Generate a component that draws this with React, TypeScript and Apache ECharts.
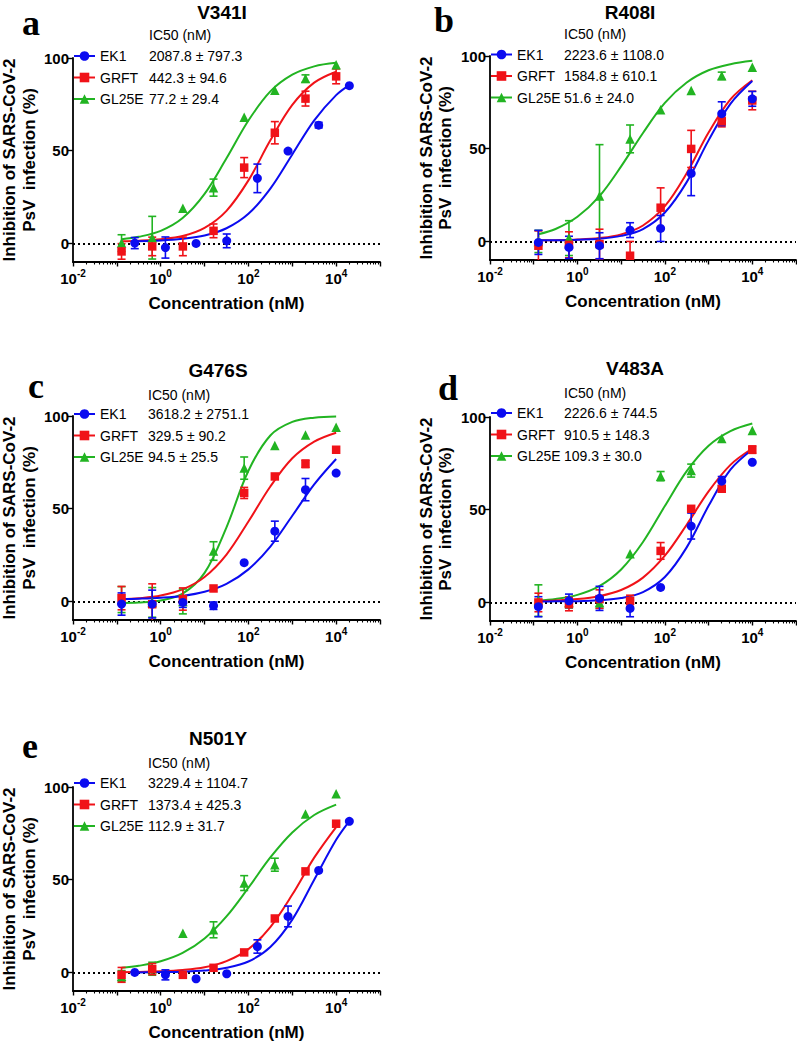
import React, { useEffect, useRef } from 'react';
import * as echarts from 'echarts';

// ---------- text / categories ----------
const PANEL_LETTERS = ['a', 'b', 'c', 'd', 'e'];
const PANEL_TITLES = ['V341I', 'R408I', 'G476S', 'V483A', 'N501Y'];
const COMPOUNDS = ['EK1', 'GRFT', 'GL25E'];
const X_LABEL_EXPONENTS = [-2, 0, 2, 4];
const Y_TICKS = [0, 50, 100];

// ---------- concentrations (nM) ----------
const DOSE_FROM_20000 = [0.256, 1.28, 6.4, 32, 160, 800, 4000, 20000];
const DOSE_FROM_10000 = [0.128, 0.64, 3.2, 16, 80, 400, 2000, 10000];
const FIT_X_FROM_20000 = [0.256, 1, 3.16, 10, 31.6, 100, 316, 1000, 3162, 10000, 20000];
const FIT_X_FROM_10000 = [0.128, 0.316, 1, 3.16, 10, 31.6, 100, 316, 1000, 3162, 10000];

// ---------- IC50 (nM), mean and SD ----------
const IC50_EK1 = [2087.8, 2223.6, 3618.2, 2226.6, 3229.4];
const IC50_EK1_SD = [797.3, 1108.0, 2751.1, 744.5, 1104.7];
const IC50_GRFT = [442.3, 1584.8, 329.5, 910.5, 1373.4];
const IC50_GRFT_SD = [94.6, 610.1, 90.2, 148.3, 425.3];
const IC50_GL25E = [77.2, 51.6, 94.5, 109.3, 112.9];
const IC50_GL25E_SD = [29.4, 24.0, 25.5, 30.0, 31.7];

// ---------- panel a: V341I ----------
const A_EK1 = [0.2, -2.2, 0.0, 1.4, 35.1, 49.8, 63.8, 85.1];
const A_EK1_SEM = [3.0, 5.7, 0, 3.7, 7.7, 0, 1.5, 0];
const A_EK1_FIT = [1.2, 1.6, 2.5, 4.3, 8.2, 16.0, 29.6, 48.0, 66.4, 80.0, 85.4];
const A_GRFT = [-4.3, -1.6, -1.6, 6.8, 40.9, 59.7, 78.1, 90.1];
const A_GRFT_SEM = [4.2, 5.0, 5.0, 3.7, 5.4, 6.0, 4.0, 4.0];
const A_GRFT_FIT = [1.2, 1.5, 2.3, 4.0, 8.4, 17.6, 34.0, 55.6, 74.7, 86.7, 92.6];
const A_GL25E = [0.2, 3.1, 19.0, 30.1, 68.1, 82.6, 88.9, 96.4];
const A_GL25E_SEM = [4.5, 11.5, 0, 4.6, 0, 0, 2.0, 0];
const A_GL25E_FIT = [2.3, 3.6, 6.8, 13.7, 26.7, 45.9, 66.3, 82.0, 91.0, 95.5, 97.4];

// ---------- panel b: R408I ----------
const B_EK1 = [-0.5, -3.2, -2.3, 6.1, 7.0, 36.7, 68.9, 76.9];
const B_EK1_SEM = [6.5, 6.0, 7.0, 4.0, 7.0, 12.0, 6.4, 4.0];
const B_EK1_FIT = [0.6, 0.6, 0.9, 1.4, 3.0, 6.7, 15.6, 32.0, 54.5, 74.2, 86.5];
const B_GRFT = [-2.3, -1.8, -1.4, -7.7, 18.2, 49.9, 64.8, 76.0];
const B_GRFT_SEM = [8.0, 7.0, 8.0, 7.7, 10.7, 10.0, 3.0, 5.0];
const B_GRFT_FIT = [0.6, 0.7, 1.0, 1.8, 3.8, 8.6, 19.0, 36.8, 58.7, 76.6, 86.9];
const B_GL25E = [0.0, 1.8, 24.5, 55.3, 71.0, 81.4, 89.3, 93.9];
const B_GL25E_SEM = [6.0, 9.4, 27.7, 7.5, 0, 0, 2.0, 0];
const B_GL25E_FIT = [3.9, 6.7, 13.3, 24.3, 40.5, 58.5, 74.7, 85.7, 92.3, 95.6, 97.4];

// ---------- panel c: G476S ----------
const C_EK1 = [-1.4, -1.4, -0.5, -2.3, 20.9, 37.9, 60.3, 69.2];
const C_EK1_SEM = [6.0, 7.5, 2.7, 2.0, 0, 5.4, 6.0, 0];
const C_EK1_FIT = [1.3, 1.5, 2.0, 3.0, 5.2, 9.5, 17.3, 29.6, 46.2, 63.1, 76.8];
const C_GRFT = [1.8, -1.5, 1.3, 7.0, 58.5, 67.4, 74.2, 81.8];
const C_GRFT_SEM = [6.3, 11.0, 6.0, 0, 3.0, 0, 2.0, 0];
const C_GRFT_FIT = [1.1, 1.7, 3.2, 6.5, 13.2, 25.3, 43.1, 62.0, 77.2, 86.2, 91.0];
const C_GL25E = [1.0, -0.5, 0.0, 27.2, 71.9, 84.1, 89.8, 93.9];
const C_GL25E_SEM = [7.0, 8.0, 6.7, 5.0, 6.0, 0, 0, 0];
const C_GL25E_FIT = [-0.8, -0.6, 0.5, 4.2, 15.4, 40.0, 70.5, 89.5, 96.8, 99.1, 99.7];

// ---------- panel d: V483A ----------
const D_EK1 = [-2.3, 0.9, 2.2, -3.2, 8.1, 41.2, 65.4, 75.6];
const D_EK1_SEM = [5.4, 3.6, 6.5, 4.5, 0, 7.0, 2.5, 0];
const D_EK1_FIT = [0.5, 0.6, 0.7, 1.2, 2.4, 5.6, 13.7, 29.7, 52.1, 71.6, 82.5];
const D_GRFT = [0.0, -0.9, 1.8, 0.9, 27.8, 50.5, 61.3, 82.4];
const D_GRFT_SEM = [5.0, 3.6, 5.0, 3.0, 4.5, 0, 0, 2.0];
const D_GRFT_FIT = [0.8, 1.1, 1.8, 3.4, 6.7, 13.4, 25.2, 41.9, 59.9, 74.2, 83.0];
const D_GL25E = [1.0, 0.0, 0.0, 26.3, 68.1, 71.1, 88.4, 92.7];
const D_GL25E_SEM = [8.5, 3.0, 3.0, 0, 2.5, 3.5, 0, 0];
const D_GL25E_FIT = [1.0, 1.9, 4.1, 8.8, 17.8, 32.6, 52.0, 70.8, 84.5, 92.4, 96.5];

// ---------- panel e: N501Y ----------
const E_EK1 = [0.0, -1.3, -3.4, -0.7, 14.0, 30.2, 55.0, 81.5];
const E_EK1_SEM = [0, 2.7, 0, 0, 3.6, 5.6, 0, 0];
const E_EK1_FIT = [0.0, 0.2, 0.4, 1.0, 2.5, 5.9, 13.7, 28.5, 50.0, 71.5, 81.6];
const E_GRFT = [-1.3, 1.8, -1.3, 2.5, 10.8, 29.1, 54.5, 80.2];
const E_GRFT_SEM = [4.0, 3.0, 0, 0, 0, 0, 0, 0];
const E_GRFT_FIT = [0.1, 0.3, 0.6, 1.3, 2.8, 6.1, 12.6, 24.5, 42.0, 61.9, 78.4];
const E_GL25E = [-2.0, 2.0, 21.2, 23.0, 48.2, 58.1, 85.4, 96.4];
const E_GL25E_SEM = [3.0, 3.5, 0, 4.3, 4.0, 3.5, 0, 0];
const E_GL25E_FIT = [2.5, 3.6, 6.0, 10.5, 18.3, 30.2, 45.7, 62.0, 75.5, 84.9, 90.5];

// ---------- table built from the arrays above ----------
type Set = { dose: number[]; y: number[]; sem: number[]; fitX: number[]; fit: number[] };
const PANEL_DATA: Record<string, Set>[] = [
  {
    EK1: { dose: DOSE_FROM_20000, y: A_EK1, sem: A_EK1_SEM, fitX: FIT_X_FROM_20000, fit: A_EK1_FIT },
    GRFT: { dose: DOSE_FROM_10000, y: A_GRFT, sem: A_GRFT_SEM, fitX: FIT_X_FROM_10000, fit: A_GRFT_FIT },
    GL25E: { dose: DOSE_FROM_10000, y: A_GL25E, sem: A_GL25E_SEM, fitX: FIT_X_FROM_10000, fit: A_GL25E_FIT },
  },
  {
    EK1: { dose: DOSE_FROM_10000, y: B_EK1, sem: B_EK1_SEM, fitX: FIT_X_FROM_10000, fit: B_EK1_FIT },
    GRFT: { dose: DOSE_FROM_10000, y: B_GRFT, sem: B_GRFT_SEM, fitX: FIT_X_FROM_10000, fit: B_GRFT_FIT },
    GL25E: { dose: DOSE_FROM_10000, y: B_GL25E, sem: B_GL25E_SEM, fitX: FIT_X_FROM_10000, fit: B_GL25E_FIT },
  },
  {
    EK1: { dose: DOSE_FROM_10000, y: C_EK1, sem: C_EK1_SEM, fitX: FIT_X_FROM_10000, fit: C_EK1_FIT },
    GRFT: { dose: DOSE_FROM_10000, y: C_GRFT, sem: C_GRFT_SEM, fitX: FIT_X_FROM_10000, fit: C_GRFT_FIT },
    GL25E: { dose: DOSE_FROM_10000, y: C_GL25E, sem: C_GL25E_SEM, fitX: FIT_X_FROM_10000, fit: C_GL25E_FIT },
  },
  {
    EK1: { dose: DOSE_FROM_10000, y: D_EK1, sem: D_EK1_SEM, fitX: FIT_X_FROM_10000, fit: D_EK1_FIT },
    GRFT: { dose: DOSE_FROM_10000, y: D_GRFT, sem: D_GRFT_SEM, fitX: FIT_X_FROM_10000, fit: D_GRFT_FIT },
    GL25E: { dose: DOSE_FROM_10000, y: D_GL25E, sem: D_GL25E_SEM, fitX: FIT_X_FROM_10000, fit: D_GL25E_FIT },
  },
  {
    EK1: { dose: DOSE_FROM_20000, y: E_EK1, sem: E_EK1_SEM, fitX: FIT_X_FROM_20000, fit: E_EK1_FIT },
    GRFT: { dose: DOSE_FROM_10000, y: E_GRFT, sem: E_GRFT_SEM, fitX: FIT_X_FROM_10000, fit: E_GRFT_FIT },
    GL25E: { dose: DOSE_FROM_10000, y: E_GL25E, sem: E_GL25E_SEM, fitX: FIT_X_FROM_10000, fit: E_GL25E_FIT },
  },
];
const IC50_TABLE: Record<string, [number[], number[]]> = {
  EK1: [IC50_EK1, IC50_EK1_SD],
  GRFT: [IC50_GRFT, IC50_GRFT_SD],
  GL25E: [IC50_GL25E, IC50_GL25E_SD],
};

// ---------- layout & style ----------
const FONT = '"Liberation Sans", Arial, Helvetica, sans-serif';
const SERIF = '"Liberation Serif", "Times New Roman", serif';
const COLORS: Record<string, string> = { EK1: '#0b0bf0', GRFT: '#f01218', GL25E: '#22b422' };
const SYMBOLS: Record<string, string> = { EK1: 'circle', GRFT: 'rect', GL25E: 'triangle' };
const SYMBOL_SIZES: Record<string, number> = { EK1: 9, GRFT: 8.5, GL25E: 9.5 };
const DRAW_ORDER = ['GL25E', 'GRFT', 'EK1'];
const LEGEND_ROW = 21.5;
const LEGEND_TEXT_H = 14;

const LAYOUT = [
  { left: 73, top: 58, width: 307, height: 204, titleX: 222, titleY: 12, letterX: 22, letterY: 23, ic50X: 149, ic50Y: 35, legendTop: 49, yNameX: 19.5 },
  { left: 490, top: 56, width: 306, height: 204, titleX: 630, titleY: 12, letterX: 434, letterY: 20, ic50X: 564, ic50Y: 34, legendTop: 47.5, yNameX: 436 },
  { left: 73, top: 416, width: 307, height: 204, titleX: 218, titleY: 370, letterX: 28, letterY: 386, ic50X: 148, ic50Y: 395, legendTop: 407, yNameX: 19.5 },
  { left: 490, top: 417, width: 306, height: 204, titleX: 635, titleY: 368, letterX: 438, letterY: 388, ic50X: 564, ic50Y: 393, legendTop: 406, yNameX: 436 },
  { left: 73, top: 787, width: 307, height: 204, titleX: 218, titleY: 738, letterX: 22, letterY: 746, ic50X: 148, ic50Y: 763, legendTop: 776, yNameX: 19.5 },
];

const MINOR_TICKS: number[] = [];
for (let n = -2; n < 5; n++) {
  for (let k = 2; k <= 9; k++) MINOR_TICKS.push(n + Math.log10(k));
}

function errorBarRenderer(color: string) {
  return (params: any, api: any) => {
    const x = api.value(0);
    const lo = api.coord([x, api.value(1)]);
    const hi = api.coord([x, api.value(2)]);
    const hw = 4;
    const style = { stroke: color, lineWidth: 1.6 };
    return {
      type: 'group',
      children: [
        { type: 'line', shape: { x1: lo[0], y1: lo[1], x2: hi[0], y2: hi[1] }, style },
        { type: 'line', shape: { x1: lo[0] - hw, y1: lo[1], x2: lo[0] + hw, y2: lo[1] }, style },
        { type: 'line', shape: { x1: hi[0] - hw, y1: hi[1], x2: hi[0] + hw, y2: hi[1] }, style },
      ],
    };
  };
}

function buildOption() {
  const grid: any[] = [];
  const xAxis: any[] = [];
  const yAxis: any[] = [];
  const series: any[] = [];
  const legend: any[] = [];
  const graphic: any[] = [];

  PANEL_DATA.forEach((panel, i) => {
    const L = LAYOUT[i];
    grid.push({ left: L.left, top: L.top, width: L.width, height: L.height, containLabel: false, outerBoundsMode: 'none' });
    const xi = xAxis.length;
    xAxis.push({
      type: 'log',
      logBase: 10,
      gridIndex: i,
      min: 0.01,
      max: 100000,
      position: 'bottom',
      axisLine: { show: true, onZero: false, lineStyle: { color: '#000', width: 1.8 } },
      axisTick: { show: true, length: 4.5, lineStyle: { color: '#000', width: 1.4 } },
      minorTick: { show: false },
      splitLine: { show: false },
      axisLabel: {
        margin: 6,
        formatter: (v: number) => {
          const e = Math.round(Math.log10(v));
          return X_LABEL_EXPONENTS.indexOf(e) >= 0 ? `{b|10}{s|${e}}` : '';
        },
        rich: {
          b: { fontSize: 15, fontWeight: 'bold', fontFamily: FONT, color: '#000', lineHeight: 18, verticalAlign: 'bottom' },
          s: { fontSize: 10, fontWeight: 'bold', fontFamily: FONT, color: '#000', lineHeight: 9, verticalAlign: 'top' },
        },
      },
      name: 'Concentration (nM)',
      nameLocation: 'middle',
      nameGap: 41,
      nameTextStyle: { fontFamily: FONT, fontSize: 17, fontWeight: 'bold', color: '#000', verticalAlign: 'middle' },
    });
    xAxis.push({
      type: 'value',
      gridIndex: i,
      min: -2,
      max: 5,
      position: 'bottom',
      axisLine: { show: false, onZero: false },
      axisLabel: { show: false },
      splitLine: { show: false },
      axisTick: { show: true, customValues: MINOR_TICKS, length: 2.5, lineStyle: { color: '#000', width: 1.1 } },
    });
    yAxis.push({
      type: 'value',
      gridIndex: i,
      min: -10,
      max: 100,
      axisLine: { show: true, onZero: false, lineStyle: { color: '#000', width: 1.8 } },
      axisTick: { show: true, customValues: Y_TICKS, length: 5, lineStyle: { color: '#000', width: 1.4 } },
      axisLabel: { customValues: Y_TICKS, fontSize: 15, fontWeight: 'bold', color: '#000', fontFamily: FONT, margin: 4 },
      splitLine: { show: false },
    });

    // fitted curves (first so the legend takes its icons from them)
    DRAW_ORDER.forEach((c) => {
      const d = panel[c];
      const s: any = {
        type: 'line',
        name: c,
        xAxisIndex: xi,
        yAxisIndex: i,
        data: d.fitX.map((x, j) => [x, d.fit[j]]),
        smooth: 0.35,
        symbol: SYMBOLS[c],
        symbolSize: SYMBOL_SIZES[c],
        showSymbol: false,
        lineStyle: { color: COLORS[c], width: 2 },
        itemStyle: { color: COLORS[c] },
        z: 2,
        silent: true,
      };
      if (c === 'GL25E') {
        s.markLine = {
          silent: true,
          symbol: 'none',
          label: { show: false },
          lineStyle: { type: [2, 3], color: '#000', width: 1.8 },
          data: [{ yAxis: 0 }],
          z: 1,
        };
      }
      series.push(s);
    });
    // error bars
    DRAW_ORDER.forEach((c) => {
      const d = panel[c];
      const bars: number[][] = [];
      d.dose.forEach((x, j) => {
        if (d.sem[j] > 0) bars.push([x, d.y[j] - d.sem[j], d.y[j] + d.sem[j]]);
      });
      series.push({
        type: 'custom',
        name: c + ' SEM',
        xAxisIndex: xi,
        yAxisIndex: i,
        data: bars,
        encode: { x: 0, y: [1, 2] },
        renderItem: errorBarRenderer(COLORS[c]),
        clip: true,
        z: 3,
        silent: true,
      });
    });
    // data points
    DRAW_ORDER.forEach((c) => {
      const d = panel[c];
      series.push({
        type: 'scatter',
        name: c + ' data',
        xAxisIndex: xi,
        yAxisIndex: i,
        data: d.dose.map((x, j) => [x, d.y[j]]),
        symbol: SYMBOLS[c],
        symbolSize: SYMBOL_SIZES[c],
        itemStyle: { color: COLORS[c], opacity: 1 },
        z: 4,
        silent: true,
      });
    });

    legend.push({
      orient: 'vertical',
      left: L.left,
      top: L.legendTop,
      padding: 0,
      itemWidth: 21,
      itemHeight: 12,
      itemGap: LEGEND_ROW - LEGEND_TEXT_H,
      selectedMode: false,
      data: COMPOUNDS,
      textStyle: { color: '#000', fontFamily: FONT, fontSize: 14 },
    });

    COMPOUNDS.forEach((c, k) => {
      const [m, s] = IC50_TABLE[c];
      graphic.push({
        type: 'text',
        x: L.ic50X,
        y: L.legendTop + LEGEND_TEXT_H / 2 + k * LEGEND_ROW,
        style: {
          text: `${m[i].toFixed(1)} ± ${s[i].toFixed(1)}`,
          font: `14px ${FONT}`,
          fill: '#000',
          textAlign: 'left',
          textVerticalAlign: 'middle',
        },
      });
    });

    graphic.push(
      {
        type: 'text',
        x: L.letterX,
        y: L.letterY,
        style: { text: PANEL_LETTERS[i], font: `bold 36px ${SERIF}`, fill: '#000', textAlign: 'left', textVerticalAlign: 'middle' },
      },
      {
        type: 'text',
        x: L.titleX,
        y: L.titleY,
        style: { text: PANEL_TITLES[i], font: `bold 19px ${FONT}`, fill: '#000', textAlign: 'center', textVerticalAlign: 'middle' },
      },
      {
        type: 'text',
        x: L.ic50X,
        y: L.ic50Y,
        style: { text: 'IC50 (nM)', font: `14px ${FONT}`, fill: '#000', textAlign: 'left', textVerticalAlign: 'middle' },
      },
      {
        type: 'text',
        x: L.yNameX,
        y: L.top + L.height / 2,
        rotation: Math.PI / 2,
        style: {
          text: 'Inhibition of SARS-CoV-2\nPsV  infection (%)',
          font: `bold 17px ${FONT}`,
          lineHeight: 19.5,
          fill: '#000',
          textAlign: 'center',
          textVerticalAlign: 'middle',
        },
      }
    );
  });

  return {
    animation: false,
    backgroundColor: '#ffffff',
    grid,
    xAxis,
    yAxis,
    series,
    legend,
    graphic,
  };
}

export default function App() {
  const ref = useRef<HTMLDivElement>(null);
  useEffect(() => {
    if (!ref.current) return;
    const chart = echarts.init(ref.current, null, { renderer: 'svg' });
    chart.setOption(buildOption() as any);
    return () => chart.dispose();
  }, []);
  return (
    <div
      ref={ref}
      style={{ position: 'absolute', left: 0, top: 0, width: 797, height: 1041, background: '#fff' }}
    />
  );
}
